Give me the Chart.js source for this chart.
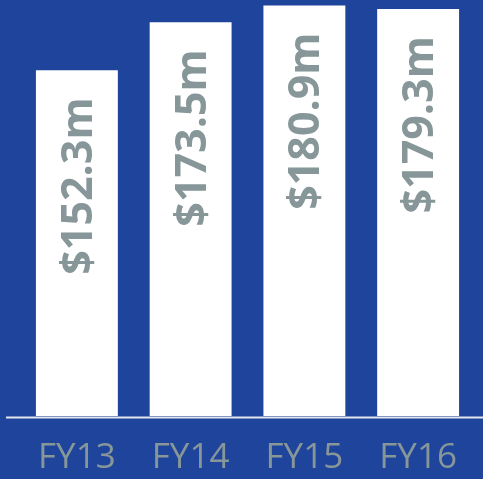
<!DOCTYPE html>
<html>
<head>
<meta charset="utf-8">
<script src="https://cdn.jsdelivr.net/npm/chart.js@4/dist/chart.umd.min.js"></script>
<style>
  html, body { margin: 0; padding: 0; background: #1e459b; }
  #wrap { width: 483px; height: 479px; }
</style>
</head>
<body>
<div id="wrap"><canvas id="revenueChart"></canvas></div>
<script>
// Revenue by financial year ($m)
const years = ['FY13', 'FY14', 'FY15', 'FY16'];
const revenue = [152.3, 173.5, 180.9, 179.3];

// White base line under the bars, running past the plot edges
const baseLine = {
    id: 'baseLine',
    afterDatasetsDraw(chart) {
        const ctx = chart.ctx;
        const y = chart.chartArea.bottom + 1.5;
        ctx.save();
        ctx.strokeStyle = '#e4e7f0';
        ctx.lineWidth = 2;
        ctx.beginPath();
        ctx.moveTo(6, y);
        ctx.lineTo(chart.width, y);
        ctx.stroke();
        ctx.restore();
    }
};

// Rotated value labels near the top of each bar
const barLabels = {
    id: 'barLabels',
    afterDatasetsDraw(chart) {
        const ctx = chart.ctx;
        const meta = chart.getDatasetMeta(0);
        ctx.save();
        ctx.fillStyle = '#879799';
        ctx.font = 'bold 43px "Open Sans", "Liberation Sans", Arial, sans-serif';
        ctx.textAlign = 'right';
        ctx.textBaseline = 'alphabetic';
        meta.data.forEach((bar, i) => {
            ctx.save();
            ctx.translate(bar.x + 15, bar.y + 27);
            ctx.rotate(-Math.PI / 2);
            ctx.fillText('$' + revenue[i].toFixed(1) + 'm', 0, 0);
            ctx.restore();
        });
        ctx.restore();
    }
};

const ctx = document.getElementById('revenueChart').getContext('2d');
const revenueChart = new Chart(ctx, {
    type: 'bar',
    data: {
        labels: years,
        datasets: [{
            data: revenue,
            backgroundColor: '#ffffff',
            borderWidth: 0,
            categoryPercentage: 1.0,
            barPercentage: 0.72
        }]
    },
    options: {
        responsive: true,
        maintainAspectRatio: false,
        animation: false,
        layout: {
            padding: { left: 20, right: 8, top: 0, bottom: 0 }
        },
        scales: {
            x: {
                grid: { display: false, drawTicks: false },
                border: { display: false },
                afterFit(scale) { scale.height = 63; },
                ticks: {
                    color: '#879799',
                    padding: 21,
                    font: { family: '"Open Sans", "Liberation Sans", Arial, sans-serif', size: 35 }
                }
            },
            y: {
                display: false,
                min: 0,
                max: 183.3
            }
        },
        plugins: {
            legend: { display: false },
            tooltip: { enabled: false }
        }
    },
    plugins: [baseLine, barLabels]
});
</script>
</body>
</html>
